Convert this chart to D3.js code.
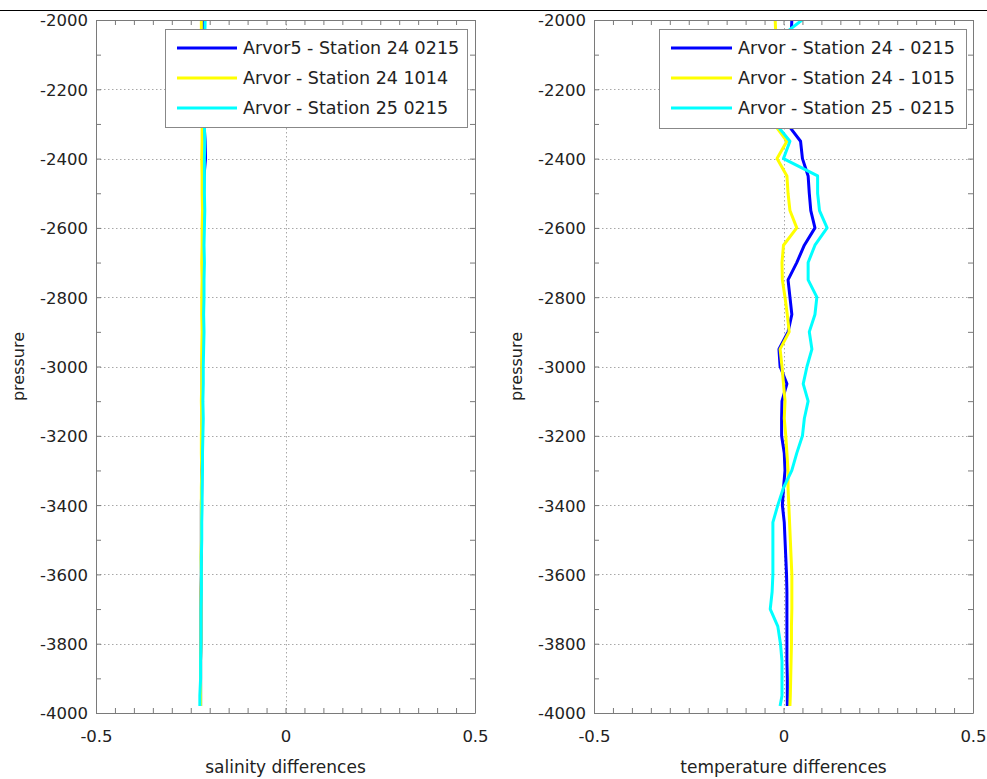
<!DOCTYPE html>
<html><head><meta charset="utf-8">
<script src="https://cdn.jsdelivr.net/npm/d3@7"></script>
<style>body{margin:0;background:#fff}svg{display:block}</style>
</head><body>
<svg id="c" width="987" height="779"></svg>
<script>
// ---------- data ----------
const pressure = [-2000,-2050,-2100,-2150,-2200,-2250,-2300,-2350,-2400,-2450,-2500,-2550,-2600,-2650,-2700,-2750,-2800,-2850,-2900,-2950,-3000,-3050,-3100,-3150,-3200,-3250,-3300,-3350,-3400,-3450,-3500,-3550,-3600,-3650,-3700,-3750,-3800,-3850,-3900,-3950,-3980];

const salBlue   = [-0.219,-0.218,-0.218,-0.217,-0.217,-0.216,-0.215,-0.212,-0.211,-0.215,-0.216,-0.217,-0.217,-0.217,-0.218,-0.218,-0.218,-0.219,-0.219,-0.219,-0.220,-0.220,-0.220,-0.220,-0.221,-0.221,-0.221,-0.221,-0.222,-0.222,-0.222,-0.222,-0.222,-0.223,-0.223,-0.223,-0.223,-0.224,-0.224,-0.224,-0.224];
const salYellow = [-0.222,-0.222,-0.221,-0.221,-0.221,-0.220,-0.220,-0.220,-0.221,-0.220,-0.220,-0.219,-0.220,-0.220,-0.221,-0.220,-0.221,-0.221,-0.220,-0.221,-0.221,-0.221,-0.222,-0.221,-0.222,-0.222,-0.221,-0.222,-0.222,-0.222,-0.222,-0.223,-0.222,-0.223,-0.223,-0.223,-0.223,-0.224,-0.224,-0.224,-0.224];
const salCyan   = [-0.212,-0.213,-0.213,-0.214,-0.214,-0.214,-0.214,-0.213,-0.214,-0.214,-0.214,-0.213,-0.214,-0.215,-0.214,-0.215,-0.215,-0.216,-0.215,-0.216,-0.217,-0.217,-0.218,-0.217,-0.218,-0.219,-0.219,-0.220,-0.220,-0.221,-0.221,-0.222,-0.222,-0.222,-0.223,-0.223,-0.223,-0.224,-0.224,-0.226,-0.226];

const tempBlue   = [0.022,0.020,0.016,0.014,0.012,0.011,0.010,0.045,0.050,0.065,0.068,0.072,0.083,0.055,0.035,0.012,0.017,0.022,0.012,-0.012,-0.009,0.009,-0.004,-0.005,-0.005,0.002,0.004,0.000,-0.003,0.002,0.004,0.006,0.008,0.009,0.009,0.009,0.009,0.009,0.010,0.010,0.010];
const tempYellow = [-0.022,-0.020,-0.020,-0.022,-0.022,-0.024,-0.025,0.009,-0.017,0.009,0.012,0.017,0.035,0.000,-0.004,-0.003,0.004,0.010,0.015,-0.009,-0.004,0.000,0.004,0.002,0.006,0.009,0.012,0.012,0.014,0.016,0.018,0.020,0.022,0.022,0.022,0.021,0.021,0.020,0.019,0.018,0.017];
const tempCyan   = [0.049,-0.010,-0.012,-0.014,-0.016,-0.018,-0.020,0.017,0.000,0.090,0.090,0.095,0.115,0.083,0.065,0.065,0.088,0.083,0.068,0.075,0.062,0.052,0.065,0.055,0.050,0.035,0.022,0.000,-0.015,-0.028,-0.028,-0.028,-0.028,-0.030,-0.035,-0.015,-0.008,-0.004,-0.004,-0.004,-0.009];

const salLegend  = ["Arvor5 - Station 24 0215","Arvor - Station 24 1014","Arvor - Station 25 0215"];
const tempLegend = ["Arvor - Station 24 - 0215","Arvor - Station 24 - 1015","Arvor - Station 25 - 0215"];
const colors = ["#0000ff","#ffff00","#00ffff"];
const xMajor = [-0.5,0,0.5];
const yMajor = [-2000,-2200,-2400,-2600,-2800,-3000,-3200,-3400,-3600,-3800,-4000];

// ---------- drawing ----------
const svg = d3.select("#c");
const FONT = "DejaVu Sans, Verdana, sans-serif";
svg.append("line").attr("x1",0).attr("x2",987).attr("y1",10.5).attr("y2",10.5).attr("stroke","#000").attr("stroke-width",1.2);

const panels = [
  {left:96, right:475, series:[salBlue,salYellow,salCyan], legend:salLegend, xlabel:"salinity differences",
   lg:{x:165,y:29,w:302,h:98,lx1:177,lx2:237,tx:243}},
  {left:594, right:973, series:[tempBlue,tempYellow,tempCyan], legend:tempLegend, xlabel:"temperature differences",
   lg:{x:659,y:29,w:307,h:99,lx1:671,lx2:732,tx:738}}
];
const plotTop = 20, plotBottom = 713;
const fmt = d => String(d);

panels.forEach((p,pi)=>{
  const x = d3.scaleLinear().domain([-0.5,0.5]).range([p.left,p.right]);
  const y = d3.scaleLinear().domain([-2000,-4000]).range([plotTop,plotBottom]);
  const g = svg.append("g");
  const w = p.right-p.left, h = plotBottom-plotTop;

  // grid
  g.append("g").selectAll("line").data(yMajor.slice(1,-1)).join("line")
    .attr("x1",p.left).attr("x2",p.right).attr("y1",d=>Math.round(y(d))+0.5).attr("y2",d=>Math.round(y(d))+0.5)
    .attr("stroke","#a8a8a8").attr("stroke-dasharray","1.5,2.5");
  g.append("g").selectAll("line").data(xMajor.slice(1,-1)).join("line")
    .attr("y1",plotTop).attr("y2",plotBottom).attr("x1",d=>Math.round(x(d))+0.5).attr("x2",d=>Math.round(x(d))+0.5)
    .attr("stroke","#a8a8a8").attr("stroke-dasharray","1.5,2.5");

  // lines
  const clipId = "clip"+pi;
  svg.append("clipPath").attr("id",clipId).append("rect").attr("x",p.left).attr("y",plotTop).attr("width",w).attr("height",h);
  const line = d3.line().x(d=>x(d[1])).y(d=>y(d[0]));
  p.series.forEach((s,i)=>{
    g.append("path").datum(pressure.map((pr,k)=>[pr,s[k]]))
      .attr("d",line).attr("fill","none").attr("stroke",colors[i]).attr("stroke-width",3)
      .attr("stroke-linejoin","round").attr("clip-path",`url(#${clipId})`);
  });

  // axes (minor ticks inward)
  const xMinor = d3.range(-0.5,0.5001,0.05).map(v=>+v.toFixed(2));
  const yMinor = d3.range(-2000,-4001,-100);
  const tickStyle = sel=>{sel.select(".domain").attr("stroke","#7a7a7a"); sel.selectAll(".tick line").attr("stroke","#7a7a7a");};
  g.append("g").attr("transform",`translate(0,${plotBottom})`)
    .call(d3.axisBottom(x).tickValues(xMinor).tickSize(-5).tickSizeOuter(0).tickFormat("")).call(tickStyle);
  g.append("g").attr("transform",`translate(0,${plotTop})`)
    .call(d3.axisTop(x).tickValues(xMinor).tickSize(-5).tickSizeOuter(0).tickFormat("")).call(tickStyle);
  g.append("g").attr("transform",`translate(${p.left},0)`)
    .call(d3.axisLeft(y).tickValues(yMinor).tickSize(-5).tickSizeOuter(0).tickFormat("")).call(tickStyle);
  g.append("g").attr("transform",`translate(${p.right},0)`)
    .call(d3.axisRight(y).tickValues(yMinor).tickSize(-5).tickSizeOuter(0).tickFormat("")).call(tickStyle);

  // tick labels
  const xl = g.append("g").attr("transform",`translate(0,${plotBottom})`)
    .call(d3.axisBottom(x).tickValues(xMajor).tickSize(0).tickPadding(29).tickFormat(fmt));
  xl.select(".domain").remove();
  xl.selectAll("text").attr("font-family",FONT).attr("font-size",16.5).attr("fill","#222").attr("dy",0);
  const yl = g.append("g").attr("transform",`translate(${p.left},0)`)
    .call(d3.axisLeft(y).tickValues(yMajor).tickSize(0).tickPadding(8).tickFormat(fmt));
  yl.select(".domain").remove();
  yl.selectAll("text").attr("font-family",FONT).attr("font-size",16.5).attr("fill","#222").attr("dy","0.36em");

  // axis titles
  g.append("text").attr("x",(p.left+p.right)/2).attr("y",773).attr("text-anchor","middle")
    .attr("font-family",FONT).attr("font-size",17).attr("fill","#222").text(p.xlabel);
  g.append("text").attr("transform",`translate(${p.left-72},${(plotTop+plotBottom)/2}) rotate(-90)`).attr("text-anchor","middle")
    .attr("font-family",FONT).attr("font-size",16).attr("fill","#222").text("pressure");

  // legend
  const L = p.lg;
  const lg = g.append("g");
  lg.append("rect").attr("x",L.x+0.5).attr("y",L.y+0.5).attr("width",L.w).attr("height",L.h)
    .attr("fill","#fff").attr("stroke","#888");
  p.legend.forEach((t,i)=>{
    const yy = L.y+19+i*30;
    lg.append("line").attr("x1",L.lx1).attr("x2",L.lx2).attr("y1",yy).attr("y2",yy).attr("stroke",colors[i]).attr("stroke-width",3);
    lg.append("text").attr("x",L.tx).attr("y",yy).attr("dy","0.36em").attr("font-family",FONT).attr("font-size",17.5)
      .attr("fill","#222").text(t);
  });
});
</script>
</body></html>
